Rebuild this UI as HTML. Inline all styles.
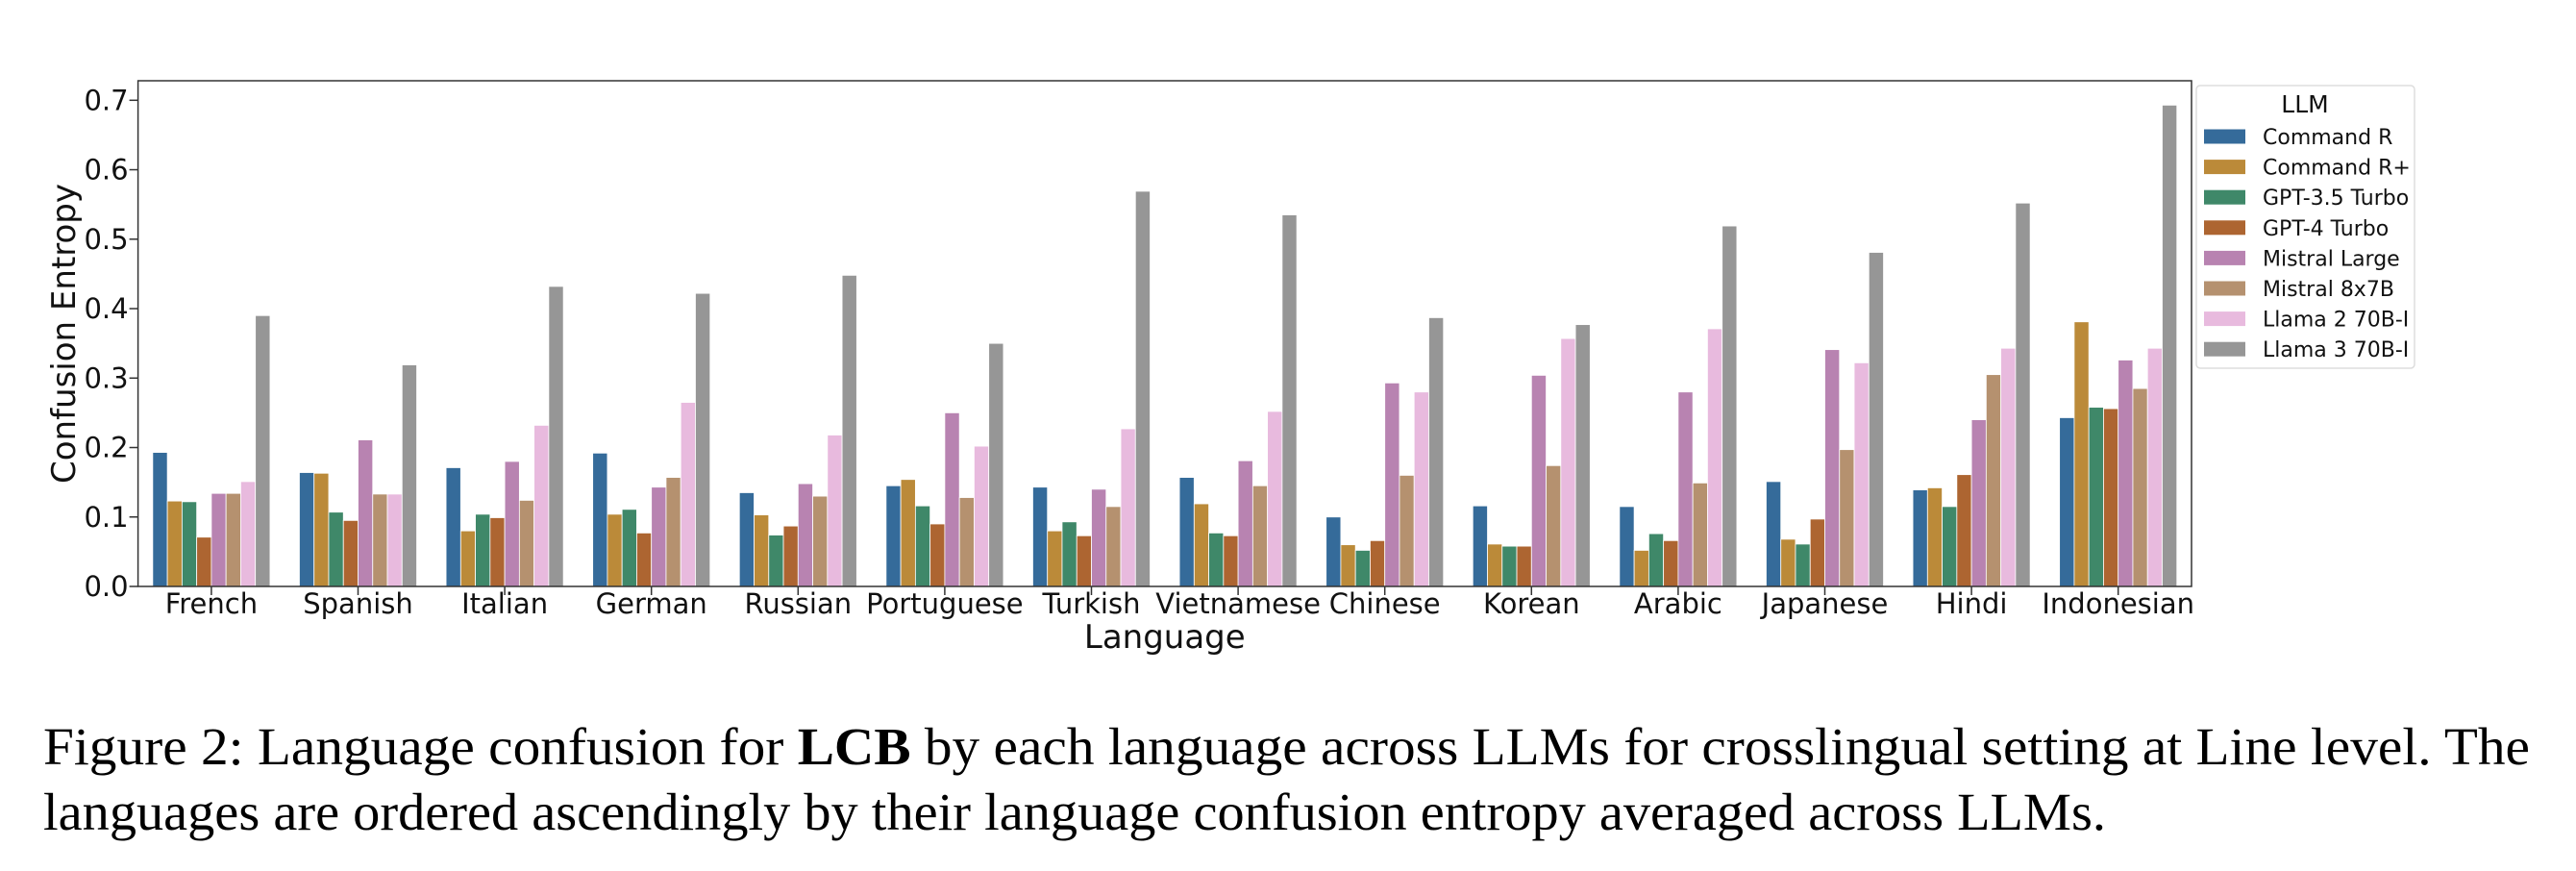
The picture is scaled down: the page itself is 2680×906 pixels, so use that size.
<!DOCTYPE html>
<html><head><meta charset="utf-8"><style>
body{margin:0;background:#fff;}
svg{display:block;font-family:"DejaVu Sans","Liberation Sans",sans-serif;}
</style></head><body>
<svg id="chart" width="2680" height="906" viewBox="0 0 2680 906" xmlns="http://www.w3.org/2000/svg">
<g id="bars"></g>
<g id="axes"></g>
<g id="legend"></g>
<text x="45" y="795" font-family="Liberation Serif, serif" font-size="55" textLength="2587" lengthAdjust="spacingAndGlyphs">Figure 2: Language confusion for <tspan font-weight="bold">LCB</tspan> by each language across LLMs for crosslingual setting at Line level. The</text>
<text x="45" y="863" font-family="Liberation Serif, serif" font-size="55" textLength="2146" lengthAdjust="spacingAndGlyphs">languages are ordered ascendingly by their language confusion entropy averaged across LLMs.</text>
</svg>
<script>
const categories = ["French","Spanish","Italian","German","Russian","Portuguese","Turkish","Vietnamese","Chinese","Korean","Arabic","Japanese","Hindi","Indonesian"];
const seriesNames = ["Command R","Command R+","GPT-3.5 Turbo","GPT-4 Turbo","Mistral Large","Mistral 8x7B","Llama 2 70B-I","Llama 3 70B-I"];
const seriesColors = ["#356b9a","#bb8a39","#3f8869","#ad6531","#b883b1","#b5916f","#e8bade","#969696"];
const commandR =     [0.193,0.164,0.171,0.192,0.135,0.145,0.143,0.157,0.100,0.116,0.115,0.151,0.139,0.243];
const commandRPlus = [0.123,0.163,0.080,0.104,0.103,0.154,0.080,0.119,0.060,0.061,0.052,0.068,0.142,0.381];
const gpt35 =        [0.122,0.107,0.104,0.111,0.074,0.116,0.093,0.077,0.052,0.058,0.076,0.061,0.115,0.258];
const gpt4 =         [0.071,0.095,0.099,0.077,0.087,0.090,0.073,0.073,0.066,0.058,0.066,0.097,0.161,0.256];
const mistralLarge = [0.134,0.211,0.180,0.143,0.148,0.250,0.140,0.181,0.293,0.304,0.280,0.341,0.240,0.326];
const mistral8x7b =  [0.134,0.133,0.124,0.157,0.130,0.128,0.115,0.145,0.160,0.174,0.149,0.197,0.305,0.285];
const llama2 =       [0.151,0.133,0.232,0.265,0.218,0.202,0.227,0.252,0.280,0.357,0.371,0.322,0.343,0.343];
const llama3 =       [0.390,0.319,0.432,0.422,0.448,0.350,0.569,0.535,0.387,0.377,0.519,0.481,0.552,0.693];
const yTicks = [0.0,0.1,0.2,0.3,0.4,0.5,0.6,0.7];
const series = [commandR,commandRPlus,gpt35,gpt4,mistralLarge,mistral8x7b,llama2,llama3];

const NS="http://www.w3.org/2000/svg";
const L=143.6,R=2280,T=84,B=610;
const yPer=(B-104.3)/0.7;
const yScale=v=>B-v*yPer;
const band=(R-L)/categories.length;
const xCenter=i=>L+band*(i+0.5);
const bw=band*0.8/series.length;
function mk(tag,attrs,parent){const e=document.createElementNS(NS,tag);for(const k in attrs)e.setAttribute(k,attrs[k]);parent.appendChild(e);return e;}
const gb=document.getElementById('bars'),ga=document.getElementById('axes'),gl=document.getElementById('legend');
series.forEach((vals,s)=>{vals.forEach((v,i)=>{
  const x=xCenter(i)-band*0.4+s*bw;
  const r=mk('rect',{x:x,y:yScale(v),width:bw,height:B-yScale(v),fill:seriesColors[s],stroke:'#fff','stroke-width':0.8},gb);
  
  
});});
const frame=mk('rect',{x:L,y:T,width:R-L,height:B-T,fill:'none',stroke:'#333','stroke-width':1.5},ga);


yTicks.forEach(t=>{
  const y=yScale(t);
  mk('line',{x1:L-9,x2:L,y1:y,y2:y,stroke:'#333','stroke-width':1.5},ga);
  const tx=mk('text',{x:L-10,y:y+10,'font-size':29,'text-anchor':'end',fill:'#111'},ga);
  tx.textContent=t.toFixed(1);
  
  
});
categories.forEach((c,i)=>{
  const x=xCenter(i);
  mk('line',{x1:x,x2:x,y1:B,y2:B+9,stroke:'#333','stroke-width':1.5},ga);
  const tx=mk('text',{x:x,y:638,'font-size':29,'text-anchor':'middle',fill:'#111'},ga);
  tx.textContent=c;
  
  
});
const xt=mk('text',{x:(L+R)/2,y:674,'font-size':34,'text-anchor':'middle',fill:'#111'},ga);
xt.textContent='Language';


const yt=mk('text',{x:0,y:0,'font-size':34,'text-anchor':'middle',fill:'#111',transform:'translate(78,347) rotate(-90)'},ga);
yt.textContent='Confusion Entropy';


const lb=mk('rect',{x:2285,y:89,width:227,height:294,rx:4,fill:'#fff',stroke:'#ddd','stroke-width':1.5},gl);


const lt=mk('text',{x:2398,y:117,'font-size':25,'text-anchor':'middle',fill:'#111'},gl);
lt.textContent='LLM';


seriesNames.forEach((n,s)=>{
  const cy=142+s*31.6;
  const sw=mk('rect',{x:2293,y:cy-7.5,width:43,height:15,fill:seriesColors[s]},gl);
  
  
  const tx=mk('text',{x:2354,y:cy+8,'font-size':22,fill:'#111'},gl);
  tx.textContent=n;
  
  
});
</script>
</body></html>
